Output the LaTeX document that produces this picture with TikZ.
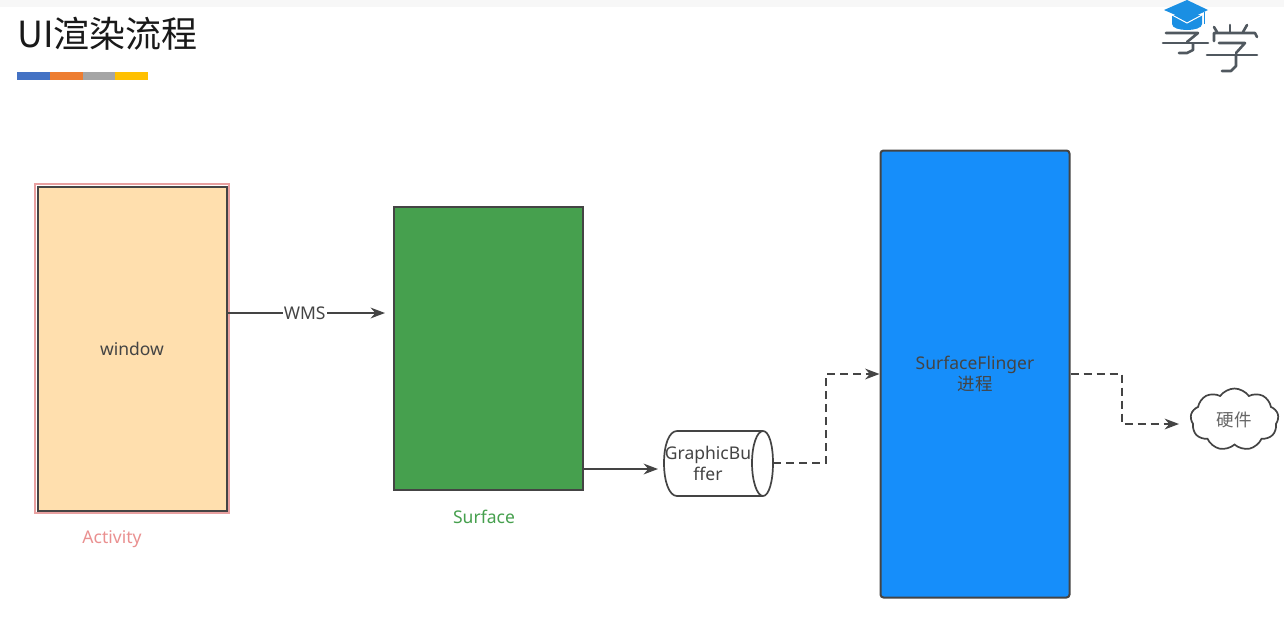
\documentclass[tikz,border=0pt]{standalone}
\usepackage{fontspec}
\setmainfont{Noto Sans}
\newfontfamily\cjk{Noto Sans CJK SC}
\usetikzlibrary{arrows.meta, shapes.geometric, shapes.symbols}
\definecolor{linegray}{HTML}{444444}
\definecolor{windowfill}{HTML}{FFDFAE}
\definecolor{activitypink}{HTML}{E8A0A0}
\definecolor{surfacegreen}{HTML}{46A04E}
\definecolor{flingerblue}{HTML}{168EFA}
\definecolor{hatblue}{HTML}{1A8FE3}
\definecolor{logogray}{HTML}{50585F}
\definecolor{barblue}{HTML}{4472C4}
\definecolor{barorange}{HTML}{ED7D31}
\definecolor{bargray}{HTML}{A5A5A5}
\definecolor{bargold}{HTML}{FFC000}
\tikzset{>={Stealth[scale=1.35]}}
\tikzset{
    box/.style={draw=linegray, line width=2pt, inner sep=0pt},
    flow/.style={draw=linegray, line width=1.7pt, ->},
    dashflow/.style={flow, dash pattern=on 8pt off 5pt},
    lbl/.style={text=linegray, font=\fontsize{17.5}{21}\selectfont, align=center, inner sep=1pt},
    logostroke/.style={draw=logogray, line width=2.6pt, line cap=round, line join=round}
}

\begin{document}
\begin{tikzpicture}[x=1pt, y=-1pt]
    \useasboundingbox (0,0) rectangle (1284,625);
    \fill[white] (0,0) rectangle (1284,625);
    \fill[black!3] (0,0) rectangle (1284,7);

    % title and colour bar
    \node[anchor=west, inner sep=0pt, text=black!90, font=\fontsize{36}{38}\selectfont\cjk] (title) at (17,34) {UI渲染流程};
    \fill[barblue] (17,72) rectangle (50,80);
    \fill[barorange] (50,72) rectangle (83,80);
    \fill[bargray] (83,72) rectangle (115,80);
    \fill[bargold] (115,72) rectangle (148,80);

    % logo
    \fill[hatblue] (1172,15) -- (1172,24) .. controls (1172,32) and (1202,32) .. (1202,24) -- (1202,15) -- cycle;
    \draw[white, line width=1pt] (1172,15) -- (1187,23) -- (1202,15);
    \fill[hatblue] (1164,10) -- (1187,0) -- (1208,10) -- (1187,20) -- cycle;
    \draw[hatblue, line width=1pt] (1204,12) -- (1204,24);
    \draw[logostroke] (1166,33) -- (1198,33) -- (1187,42);
    \draw[logostroke] (1163,43) -- (1208,43);
    \draw[logostroke] (1193,44) -- (1193,50) -- (1187,53) -- (1179,53);
    \draw[logostroke] (1214,27) -- (1217,32);
    \draw[logostroke] (1230,25) -- (1230,32);
    \draw[logostroke] (1247,25) -- (1243,32);
    \draw[logostroke] (1214,41) -- (1214,33) -- (1255,33) -- (1257,37);
    \draw[logostroke] (1219,43) -- (1245,43) -- (1236,53);
    \draw[logostroke] (1207,55) -- (1257,55);
    \draw[logostroke] (1236,55) -- (1236,66) -- (1231,71) -- (1222,71);

    % boxes
    \node[draw=activitypink, line width=2.6pt, minimum width=194pt, minimum height=329pt, inner sep=0pt] (activity) at (132,348.5) {};
    \node[box, fill=windowfill, minimum width=189pt, minimum height=324pt, lbl] (window) at (132,348.5) {window};
    \node[box, fill=surfacegreen, minimum width=189pt, minimum height=283pt] (surface) at (488,348) {};
    \node[box, fill=flingerblue, rounded corners=3pt, minimum width=189pt, minimum height=447pt, lbl] (flinger) at (975,374) {SurfaceFlinger\\{\cjk 进程}};

    % cylinder, the node only holds its place
    \node[minimum width=109pt, minimum height=65pt, inner sep=0pt, outer sep=0pt] (buffer) at (718.5,463) {};
    \draw[draw=linegray, line width=1.7pt] (677,431) -- (763,431) .. controls (769,431) and (773,445) .. (773,463) .. controls (773,481) and (769,496) .. (763,496) -- (677,496) .. controls (669,496) and (664,481) .. (664,463) .. controls (664,445) and (669,431) .. (677,431) -- cycle;
    \draw[draw=linegray, line width=1.7pt] (763,431) .. controls (757,431) and (752,445) .. (752,463) .. controls (752,481) and (757,496) .. (763,496);
    \node[lbl] (buffertext) at (708,463.5) {GraphicBu\\ffer};

    \node[draw=linegray, line width=1.7pt, shape=cloud, cloud puffs=9, cloud puff arc=110, aspect=1.4, minimum width=88pt, minimum height=62pt, inner sep=0pt] (cloud) at (1234.5,419.5) {};
    \node[lbl, text=black!60, font=\fontsize{17.5}{19}\selectfont\cjk] (hardware) at (1234,420) {硬件};

    % captions
    \node[lbl, text=activitypink!90!red] (activitycap) at (112,539) {Activity};
    \node[lbl, text=surfacegreen] (surfacecap) at (484,517) {Surface};

    % connectors
    \coordinate (wmsend) at (385,313);
    \coordinate (bufferend) at (658,469);
    \coordinate (flingerin) at (826,374);
    \coordinate (flingerout) at (1122,374);
    \coordinate (cloudend) at (1179,424);
    \draw[flow] (window.east |- wmsend) -- node[lbl, fill=white, inner sep=1pt, pos=0.49] (wms) {WMS} (wmsend);
    \draw[flow] (surface.east |- bufferend) -- (bufferend);
    \draw[dashflow] (buffer.east) -| (flingerin) -- (flinger.west |- flingerin);
    \draw[dashflow] (flinger.east |- flingerout) -- (flingerout) |- (cloudend);
\end{tikzpicture}
\end{document}
